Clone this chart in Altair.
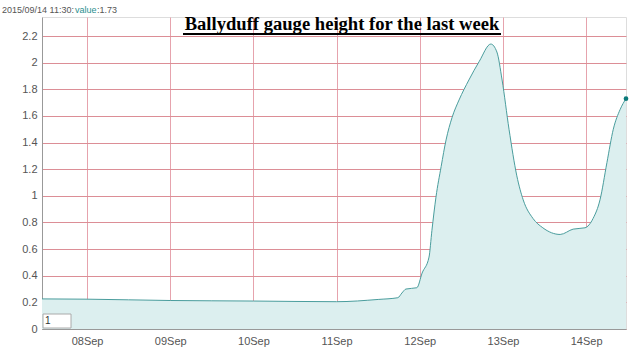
import altair as alt
import pandas as pd

times = [
    "2015-09-07T11:00:00", "2015-09-08T00:00:00", "2015-09-09T00:00:00", "2015-09-10T00:00:00",
    "2015-09-11T00:00:00", "2015-09-11T12:00:00", "2015-09-11T17:40:00", "2015-09-11T18:50:00",
    "2015-09-11T20:00:00", "2015-09-11T23:10:00", "2015-09-12T00:40:00", "2015-09-12T02:40:00",
    "2015-09-12T03:30:00", "2015-09-12T04:40:00", "2015-09-12T06:10:00", "2015-09-12T07:35:00",
    "2015-09-12T09:20:00", "2015-09-12T11:20:00", "2015-09-12T14:10:00", "2015-09-12T17:10:00",
    "2015-09-12T20:30:00", "2015-09-12T22:15:00", "2015-09-12T23:45:00", "2015-09-13T01:45:00",
    "2015-09-13T04:00:00", "2015-09-13T05:50:00", "2015-09-13T08:40:00", "2015-09-13T11:30:00",
    "2015-09-13T16:30:00", "2015-09-13T20:15:00", "2015-09-13T23:40:00", "2015-09-14T02:00:00",
    "2015-09-14T04:00:00", "2015-09-14T06:00:00", "2015-09-14T07:50:00", "2015-09-14T09:50:00",
    "2015-09-14T11:30:00",
]
values = [
    0.226, 0.224, 0.214, 0.210,
    0.205, 0.222, 0.235, 0.27,
    0.30, 0.31, 0.42, 0.54,
    0.74, 0.99, 1.22, 1.42,
    1.59, 1.72, 1.87, 2.01,
    2.14, 2.08, 1.87, 1.50,
    1.15, 0.97, 0.83, 0.76,
    0.71, 0.75, 0.76, 0.83,
    0.97, 1.25, 1.50, 1.65,
    1.73,
]
y_ticks = [0, 0.2, 0.4, 0.6, 0.8, 1, 1.2, 1.4, 1.6, 1.8, 2, 2.2]
day_ticks = [8, 9, 10, 11, 12, 13, 14]
title_text = "Ballyduff gauge height for the last week"
status_parts = ["2015/09/14 11:30:", "value", ":1.73"]

df = pd.DataFrame({"t": times, "v": values})

W, H = 584, 312
xscale = alt.Scale(domain=[alt.DateTime(year=2015, month=9, date=7, hours=11),
                           alt.DateTime(year=2015, month=9, date=14, hours=11, minutes=30)])
yscale = alt.Scale(domain=[0, 2.343], nice=False, zero=True)

x_axis = alt.Axis(values=[alt.DateTime(year=2015, month=9, date=d) for d in day_ticks],
                  format="%d%b", labelFont="Liberation Sans", labelFontSize=11,
                  labelColor="#555555", ticks=False, labelPadding=6,
                  domainColor="#999999", gridColor="#e6a3ad", gridOpacity=1,
                  gridWidth=1, labelFlush=False, labelOverlap=False)
y_axis = alt.Axis(values=y_ticks, format="~g", labelFont="Liberation Sans", labelFontSize=11,
                  labelColor="#555555", ticks=False, labelPadding=5,
                  domainColor="#999999", gridColor="#dc8e96", gridOpacity=1,
                  gridWidth=1, labelFlush=False, labelOverlap=False)

area = alt.Chart(df).mark_area(interpolate="monotone", color="#dcefef", opacity=1,
                               line=alt.LineConfig(color="#4a9d9d", strokeWidth=1)).encode(
    x=alt.X("t:T", scale=xscale, title=None, axis=x_axis),
    y=alt.Y("v:Q", scale=yscale, title=None, axis=y_axis))

last = alt.Chart(df.tail(1)).mark_circle(color="#0b7a7a", size=22, opacity=1).encode(
    x=alt.X("t:T", scale=xscale, title=None, axis=x_axis),
    y=alt.Y("v:Q", scale=yscale, title=None, axis=y_axis))

title = alt.Chart(pd.DataFrame({"s": [title_text]})).mark_text(
    font="Liberation Serif", fontSize=18.6, fontWeight="bold", color="#000000",
    align="center", baseline="alphabetic").encode(
    text="s:N", x=alt.value(300), y=alt.value(13))
underline = alt.Chart(pd.DataFrame({"s": [title_text]})).mark_rule(
    color="#000000", strokeWidth=2).encode(x=alt.value(141), x2=alt.value(459), y=alt.value(17))

st1 = alt.Chart(pd.DataFrame({"s": [status_parts[0]]})).mark_text(
    font="Liberation Sans", fontSize=9, color="#555555", align="left", baseline="alphabetic").encode(
    text="s:N", x=alt.value(-40), y=alt.value(-4))
st2 = alt.Chart(pd.DataFrame({"s": [status_parts[1]]})).mark_text(
    font="Liberation Sans", fontSize=9, color="#2a8f8f", align="left", baseline="alphabetic").encode(
    text="s:N", x=alt.value(33), y=alt.value(-4))
st3 = alt.Chart(pd.DataFrame({"s": [status_parts[2]]})).mark_text(
    font="Liberation Sans", fontSize=9, color="#555555", align="left", baseline="alphabetic").encode(
    text="s:N", x=alt.value(55), y=alt.value(-4))

box = alt.Chart(pd.DataFrame({"s": ["1"]})).mark_rect(
    fill="#ffffff", stroke="#aaaaaa", strokeWidth=1).encode(
    x=alt.value(1), x2=alt.value(29), y=alt.value(297), y2=alt.value(311))
box_t = alt.Chart(pd.DataFrame({"s": ["1"]})).mark_text(
    font="Liberation Sans", fontSize=10, color="#333333", align="left", baseline="middle").encode(
    text="s:N", x=alt.value(3), y=alt.value(304))

chart = alt.layer(area, last, title, underline, st1, st2, st3, box, box_t).properties(
    width=W, height=H, autosize=alt.AutoSizeParams(type="none"),
    padding={"left": 42, "top": 17, "right": 14, "bottom": 26},
).configure_view(stroke=None).configure(background="#ffffff")

chart.save("out.html", embed_options={"renderer": "svg", "actions": False})
